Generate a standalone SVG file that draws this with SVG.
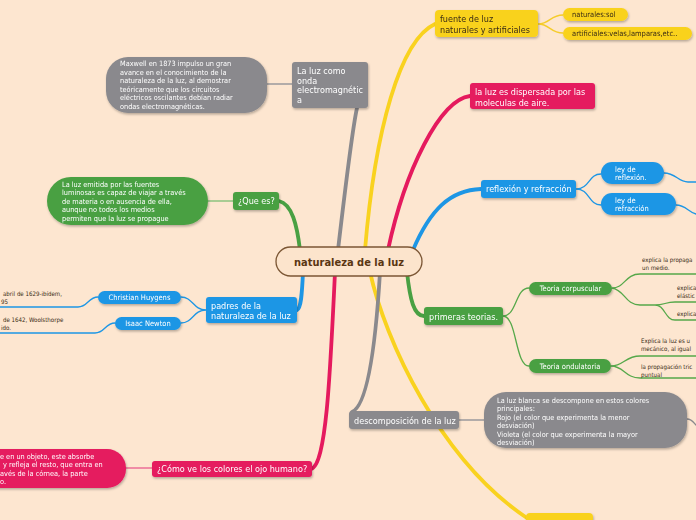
<svg xmlns="http://www.w3.org/2000/svg" width="696" height="520" viewBox="0 0 696 520">
<defs>
<filter id="sh" x="-10%" y="-20%" width="130%" height="160%">
<feDropShadow dx="0.8" dy="1.5" stdDeviation="0.9" flood-color="#000" flood-opacity="0.28"/>
</filter>
<style>
text{font-family:"DejaVu Sans Condensed","DejaVu Sans",sans-serif;}
.w{fill:#ffffff;}
.d{fill:#3a2c14;}
.n9{font-size:9px;}
.n75{font-size:7.5px;}
.n73{font-size:7.3px;}
.n6{font-size:6.1px;}
.c{text-anchor:middle;}
.yel{fill:#F9D21F;}
.mag{fill:#E51A5E;}
.blu{fill:#1D96E5;}
.grn{fill:#49A043;}
.gry{fill:#8A898D;}
.br{fill:none;stroke-width:3.8;stroke-linecap:round;}
.sb{fill:none;stroke-width:1.3;stroke-linecap:round;}
</style>
</defs>
<rect width="696" height="520" fill="#FDE6D0"/>
<g id="connectors">
<path class="br" stroke="#49A043" d="M300,250 C297,225 292,204 279,201"/>
<path class="br" stroke="#8A898D" d="M338,250 C345,190 352,130 357,108"/>
<path class="br" stroke="#F9D21F" d="M365,250 C375,130 400,40 435,24"/>
<path class="br" stroke="#E51A5E" d="M388,250 C405,170 440,100 470,96"/>
<path class="br" stroke="#1D96E5" d="M413,250 C430,210 450,190 481,189"/>
<path class="br" stroke="#1D96E5" d="M303,272 C302,295 301,308 297,310"/>
<path class="br" stroke="#E51A5E" d="M335,272 C330,380 326,465 311,469"/>
<path class="br" stroke="#F9D21F" d="M370,272 C385,340 440,460 527,518"/>
<path class="br" stroke="#8A898D" d="M380,272 C376,340 368,405 352,412"/>
<path class="br" stroke="#49A043" d="M407,272 C410,300 414,316 424,316"/>
<path class="sb" stroke="#F5CC2A" d="M538,24 C550,24 550,15 563,15 M538,24 C550,24 550,33 563,33"/>
<path class="sb" stroke="#9A999C" stroke-width="1.8" d="M267,84 L292,84"/>
<path class="sb" stroke="#8DC47F" stroke-width="2" d="M208,201 L233,201"/>
<path class="sb" stroke="#1D96E5" d="M576,189 C590,189 588,174 601,174 M576,189 C590,189 588,205 601,205"/>
<path class="sb" stroke="#1D96E5" d="M664,173 C676,173 678,182 688,182 L696,182 M676,205 C686,205 688,212 696,214"/>
<path class="sb" stroke="#1D96E5" d="M206,310 C193,310 193,297 181,297 M206,310 C193,310 193,323 181,323"/>
<path class="sb" stroke="#1D96E5" d="M98,297 C88,297 88,307 78,307 L0,307 M115,323 C105,323 105,333 95,333 L0,333"/>
<path class="sb" stroke="#56A84A" d="M503,316 C517,316 515,288 529,288 M503,316 C517,316 515,366 529,366"/>
<path class="sb" stroke="#56A84A" d="M612,288 C625,288 625,274 640,274 L696,274 M612,288 C625,290 625,305 640,305 L655,305 C665,305 665,302 675,302 L696,302 M655,305 C665,305 665,320 675,320 L696,320"/>
<path class="sb" stroke="#56A84A" d="M611,366 C624,366 625,356 640,356 L696,356 M611,366 C624,366 625,378 640,378 L696,378"/>
<path class="sb" stroke="#9A999C" stroke-width="1.8" d="M459,420 L484,420"/>
<path class="sb" stroke="#8A898D" d="M687,419 C692,419 694,423 696,425"/>
<path class="sb" stroke="#EC6F97" stroke-width="2" d="M126,468 L152,468"/>
</g>
<g id="center">
<rect x="276" y="247" width="146" height="29" rx="14.5" fill="#FCE4CC" stroke="#7B5634" stroke-width="1.3"/>
<text x="349" y="265.5" class="c" font-size="11" font-weight="bold" fill="#5A3612">naturaleza de la luz</text>
</g>
<g id="fuente" filter="url(#sh)">
<rect x="435" y="10" width="103" height="27" rx="4" class="yel"/>
<text x="440" y="21.5" class="n9 d">fuente de luz</text>
<text x="440" y="32.5" class="n9 d">naturales y artificiales</text>
</g>
<g id="naturales" filter="url(#sh)">
<rect x="563" y="8" width="65" height="13" rx="6.5" class="yel"/>
<text x="572" y="17.3" class="n75 d">naturales:sol</text>
</g>
<g id="artificiales" filter="url(#sh)">
<rect x="563" y="27" width="129" height="13" rx="6.5" class="yel"/>
<text x="572" y="36.3" class="n75 d">artificiales:velas,lamparas,etc..</text>
</g>
<g id="dispersada" filter="url(#sh)">
<rect x="470" y="83" width="125" height="26" rx="3" class="mag"/>
<text x="475" y="94.5" class="n9 w">la luz es dispersada por las</text>
<text x="475" y="105.5" class="n9 w">moleculas de aire.</text>
</g>
<g id="reflexion-refraccion" filter="url(#sh)">
<rect x="481" y="180" width="95" height="18" rx="3" class="blu"/>
<text x="486" y="192.3" class="n9 w">reflexión y refracción</text>
</g>
<g id="ley-reflexion" filter="url(#sh)">
<rect x="601" y="162" width="63" height="22" rx="11" class="blu"/>
<text x="615" y="171.5" class="n75 w">ley de</text>
<text x="615" y="180" class="n75 w">reflexión.</text>
</g>
<g id="ley-refraccion" filter="url(#sh)">
<rect x="601" y="193" width="75" height="22" rx="11" class="blu"/>
<text x="615" y="203" class="n75 w">ley de</text>
<text x="615" y="211" class="n75 w">refracción</text>
</g>
<g id="que-es" filter="url(#sh)">
<rect x="233" y="192" width="46" height="18" rx="3" class="grn"/>
<text x="238" y="204.3" class="n9 w">¿Que es?</text>
</g>
<g id="que-es-detalle" filter="url(#sh)">
<rect x="47" y="177" width="161" height="48" rx="24" class="grn"/>
<text x="62" y="186.8" class="n73 w">La luz emitida por las fuentes</text>
<text x="62" y="195.3" class="n73 w">luminosas es capaz de viajar a través</text>
<text x="62" y="203.8" class="n73 w">de materia o en ausencia de ella,</text>
<text x="62" y="212.3" class="n73 w">aunque no todos los medios</text>
<text x="62" y="220.8" class="n73 w">permiten que la luz se propague</text>
</g>
<g id="onda" filter="url(#sh)">
<rect x="292" y="62" width="76" height="46" rx="3" class="gry"/>
<text x="297" y="74" class="n9 w">La luz como</text>
<text x="297" y="83.5" class="n9 w">onda</text>
<text x="297" y="93" class="n9 w">electromagnétic</text>
<text x="297" y="102.5" class="n9 w">a</text>
</g>
<g id="maxwell" filter="url(#sh)">
<rect x="106" y="57" width="161" height="56" rx="22" class="gry"/>
<text x="120" y="66" class="n73 w">Maxwell en 1873 impulso un gran</text>
<text x="120" y="74.5" class="n73 w">avance en el conocimiento de la</text>
<text x="120" y="83" class="n73 w">naturaleza de la luz, al demostrar</text>
<text x="120" y="91.5" class="n73 w">teóricamente que los circuitos</text>
<text x="120" y="100" class="n73 w">eléctricos oscilantes debían radiar</text>
<text x="120" y="108.5" class="n73 w">ondas electromagnéticas.</text>
</g>
<g id="padres" filter="url(#sh)">
<rect x="206" y="297" width="91" height="26" rx="3" class="blu"/>
<text x="211" y="309" class="n9 w">padres de la</text>
<text x="211" y="318.8" class="n9 w">naturaleza de la luz</text>
</g>
<g id="huygens" filter="url(#sh)">
<rect x="98" y="291" width="83" height="13" rx="6.5" class="blu"/>
<text x="139.5" y="300.3" class="n75 w c">Christian Huygens</text>
</g>
<g id="newton" filter="url(#sh)">
<rect x="115" y="317" width="66" height="13" rx="6.5" class="blu"/>
<text x="148" y="326.3" class="n75 w c">Isaac Newton</text>
</g>
<g id="huygens-nota">
<text x="3" y="295.5" class="n6 d">abril de 1629-ibídem,</text>
<text x="1" y="303.5" class="n6 d">95</text>
</g>
<g id="newton-nota">
<text x="3" y="321.5" class="n6 d">de 1642, Woolsthorpe</text>
<text x="1" y="329.5" class="n6 d">ido.</text>
</g>
<g id="primeras" filter="url(#sh)">
<rect x="424" y="307" width="79" height="18" rx="3" class="grn"/>
<text x="429" y="319.5" class="n9 w">primeras teorias.</text>
</g>
<g id="corpuscular" filter="url(#sh)">
<rect x="529" y="282" width="83" height="13" rx="6.5" class="grn"/>
<text x="570.5" y="291.3" class="n75 w c">Teoria corpuscular</text>
</g>
<g id="ondulatoria" filter="url(#sh)">
<rect x="529" y="359" width="82" height="14" rx="7" class="grn"/>
<text x="570" y="368.8" class="n75 w c">Teoria ondulatoria</text>
</g>
<g id="corpuscular-notas">
<text x="642" y="262" class="n6 d">explica la propaga</text>
<text x="642" y="269.5" class="n6 d">un medio.</text>
<text x="677" y="290" class="n6 d">explica</text>
<text x="677" y="297.5" class="n6 d">elástic</text>
<text x="677" y="316" class="n6 d">explica</text>
</g>
<g id="ondulatoria-notas">
<text x="641" y="342.5" class="n6 d">Explica la luz es u</text>
<text x="641" y="350.5" class="n6 d">mecánico, al igual</text>
<text x="641" y="369" class="n6 d">la propagación tric</text>
<text x="641" y="376.5" class="n6 d">puntual</text>
</g>
<g id="descomposicion" filter="url(#sh)">
<rect x="349" y="411" width="110" height="18" rx="3" class="gry"/>
<text x="354" y="423.5" class="n9 w">descomposición de la luz</text>
</g>
<g id="descomposicion-detalle" filter="url(#sh)">
<rect x="484" y="392" width="203" height="56" rx="22" class="gry"/>
<text x="497" y="402.5" class="n73 w">La luz blanca se descompone en estos colores</text>
<text x="497" y="411" class="n73 w">principales:</text>
<text x="497" y="419.5" class="n73 w">Rojo (el color que experimenta la menor</text>
<text x="497" y="428" class="n73 w">desviación)</text>
<text x="497" y="436.5" class="n73 w">Violeta (el color que experimenta la mayor</text>
<text x="497" y="445" class="n73 w">desviación)</text>
</g>
<g id="ojo" filter="url(#sh)">
<rect x="152" y="461" width="160" height="16" rx="3" class="mag"/>
<text x="157" y="472.3" class="n9 w">¿Cómo ve los colores el ojo humano?</text>
</g>
<g id="ojo-detalle" filter="url(#sh)">
<rect x="-40" y="449" width="166" height="39" rx="19" class="mag"/>
<text x="0" y="458.5" class="n73 w">e en un objeto, este absorbe</text>
<text x="3" y="467" class="n73 w">y refleja el resto, que entra en</text>
<text x="0" y="475.5" class="n73 w">avés de la córnea, la parte</text>
<text x="0" y="484" class="n73 w">o.</text>
</g>
<g id="inferior" filter="url(#sh)">
<rect x="526" y="513" width="67" height="20" rx="4" class="yel"/>
</g>
</svg>
